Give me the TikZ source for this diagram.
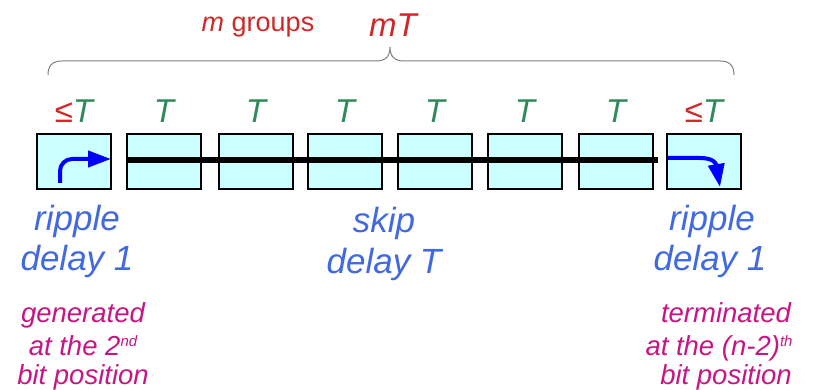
\documentclass[tikz,border=0pt]{standalone}
\usepackage{fontspec}
\setmainfont{Liberation Sans}
\usetikzlibrary{arrows.meta}
\definecolor{boxfill}{HTML}{CCFFFF}
\definecolor{lblred}{HTML}{D02828}
\definecolor{lblgreen}{HTML}{2E8B57}
\definecolor{txtblue}{HTML}{4169E1}
\definecolor{txtmag}{HTML}{C71585}
\definecolor{arrblue}{HTML}{0000FF}
\newcommand{\supsm}[1]{\raisebox{9pt}{\fontsize{15}{15}\selectfont #1}}
\begin{document}
\begin{tikzpicture}[x=1pt,y=-1pt,
  blk/.style={draw=black, line width=2pt, fill=boxfill, minimum width=74pt, minimum height=55pt, inner sep=0pt, outer sep=0pt},
  tlbl/.style={anchor=base, inner sep=0pt, font=\fontsize{33}{36}\selectfont},
  bluetxt/.style={anchor=base, inner sep=0pt, text=txtblue, font=\fontsize{35}{38}\selectfont\itshape},
  magtxt/.style={anchor=base, inner sep=0pt, text=txtmag, font=\fontsize{27.5}{30}\selectfont\itshape},
  ripplearrow/.style={draw=arrblue, line width=4pt, -{Triangle[length=23pt,width=16pt]}},
  bracestyle/.style={draw=gray, line width=1pt}
]
\useasboundingbox (0,0) rectangle (816,390);

% boxes
\foreach \i/\x in {1/74,2/164,3/256,4/345,5/435,6/525,7/616,8/704}{
  \node[blk] (b\i) at (\x,161.5) {};
}

% skip bar
\coordinate (barend) at (658,160);
\draw[line width=6pt] (b2.west |- barend) -- (barend);

% ripple arrows
\coordinate (a1s) at (60,183);
\draw[ripplearrow, rounded corners=12pt] (a1s) |- (b1.east |- 0,159);
\coordinate (a8s) at (668,158);
\coordinate (a8e) at (720,187);
\draw[ripplearrow] (a8s) -- (700,158) .. controls (713,158) and (716,163) .. (a8e);

% delay labels
\node[tlbl] (t1) at (74,122.6) {\textcolor{lblred}{≤}\textcolor{lblgreen}{\itshape T}};
\foreach \i/\x in {2/164,3/256,4/345,5/435,6/525,7/616}{
  \node[tlbl, text=lblgreen] (t\i) at (\x,122.6) {\itshape T};
}
\node[tlbl] (t8) at (704,122.6) {\textcolor{lblred}{≤}\textcolor{lblgreen}{\itshape T}};

% brace
\coordinate (brL) at (48,75);
\coordinate (brTip) at (390,47);
\coordinate (brR) at (734,75);
\draw[bracestyle] (brL) .. controls (48,66) and (52,61) .. (62,61) -- (376,61)
  .. controls (386,61) and (390,56) .. (brTip)
  .. controls (390,56) and (394,61) .. (404,61) -- (720,61)
  .. controls (730,61) and (734,66) .. (brR);

\node[anchor=base, inner sep=0pt, text=lblred, font=\fontsize{27}{30}\selectfont] (mg) at (258,32) {\itshape m\upshape\ groups};
\node[anchor=base, inner sep=0pt, text=lblred, font=\fontsize{33}{36}\selectfont\itshape] (mt) at (393,37) {mT};

% blue texts
\node[bluetxt] (r1a) at (77,230) {ripple};
\node[bluetxt] (r1b) at (77,270) {delay 1};
\node[bluetxt] (sa) at (384,233) {skip};
\node[bluetxt] (sb) at (384,273) {delay T};
\node[bluetxt] (r2a) at (712,230) {ripple};
\node[bluetxt] (r2b) at (710,270) {delay 1};

% magenta texts
\node[magtxt] (g1) at (83,322) {generated};
\node[magtxt] (g2) at (83,355) {at the 2\supsm{nd}};
\node[magtxt] (g3) at (83,384) {bit position};
\node[magtxt] (e1) at (726,322) {terminated};
\node[magtxt] (e2) at (719,355) {at the (n-2)\supsm{th}};
\node[magtxt] (e3) at (726,384) {bit position};
\end{tikzpicture}
\end{document}
